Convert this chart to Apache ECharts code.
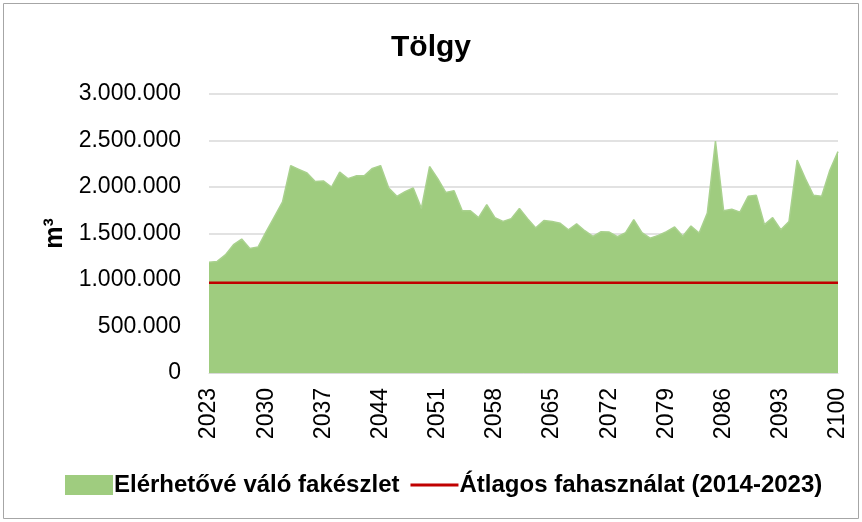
<!DOCTYPE html>
<html>
<head>
<meta charset="utf-8">
<script src="https://cdn.jsdelivr.net/npm/echarts@6/dist/echarts.min.js"></script>
<style>
  html, body { margin: 0; padding: 0; background: #fff; }
  #chart { width: 862px; height: 522px; }
</style>
</head>
<body>
<div id="chart"></div>
<script>
// evek 2023-2100
var years = [];
for (var y = 2023; y <= 2100; y++) {
    years.push(String(y));
}

// Elérhetővé váló fakészlet (m3)
var available = [
    1190000, 1200000, 1270000, 1380000, 1440000, 1340000, 1355000, 1520000, 1680000, 1840000,
    2230000, 2190000, 2150000, 2060000, 2065000, 2000000, 2160000, 2090000, 2120000, 2120000,
    2200000, 2230000, 1990000, 1900000, 1950000, 1990000, 1770000, 2220000, 2090000, 1940000,
    1960000, 1745000, 1745000, 1670000, 1810000, 1670000, 1630000, 1660000, 1770000, 1660000,
    1560000, 1640000, 1630000, 1610000, 1540000, 1605000, 1530000, 1470000, 1520000, 1515000,
    1465000, 1510000, 1650000, 1510000, 1450000, 1480000, 1520000, 1570000, 1470000, 1580000,
    1505000, 1720000, 2495000, 1745000, 1760000, 1730000, 1900000, 1910000, 1595000, 1670000,
    1540000, 1630000, 2290000, 2090000, 1910000, 1900000, 2180000, 2380000
];

// Átlagos fahasználat (2014-2023)
var avgUse = 970000;
var avgLine = years.map(function () { return avgUse; });

var fontMain = "'Liberation Sans', Arial, sans-serif";

function fmtHu(v) {
    return String(v).replace(/\B(?=(\d{3})+(?!\d))/g, '.');
}

var myChart = echarts.init(document.getElementById('chart'));

var option = {
    animation: false,
    backgroundColor: '#fff',
    textStyle: { fontFamily: fontMain },
    graphic: [{
        type: 'rect',
        shape: { x: 3.5, y: 3.5, width: 855, height: 515 },
        style: { fill: 'none', stroke: '#a6a6a6', lineWidth: 1 },
        silent: true
    }],
    title: {
        text: 'Tölgy',
        left: 'center',
        top: 28,
        textStyle: { fontFamily: fontMain, fontSize: 30, fontWeight: 'bold', color: '#000' }
    },
    legend: {
        bottom: 20,
        left: 60,
        itemWidth: 48,
        itemHeight: 20,
        itemGap: 11,
        textStyle: { fontFamily: fontMain, fontSize: 24, fontWeight: 'bold', color: '#000', padding: [0, 0, 0, -4] },
        data: [
            { name: 'Elérhetővé váló fakészlet', icon: 'rect' },
            { name: 'Átlagos fahasználat (2014-2023)', icon: 'path://M0,0L48,0L48,3L0,3Z' }
        ]
    },
    grid: { left: 209, right: 24, top: 94, bottom: 149 },
    xAxis: {
        type: 'category',
        data: years,
        boundaryGap: false,
        axisLine: { show: true, lineStyle: { color: '#d9d9d9', width: 1 } },
        axisTick: { show: false },
        axisLabel: {
            interval: 6,
            rotate: 90,
            margin: 15,
            fontFamily: fontMain,
            fontSize: 23,
            color: '#000'
        },
        splitLine: { show: false }
    },
    yAxis: {
        type: 'value',
        min: 0,
        max: 3000000,
        interval: 500000,
        name: 'm³',
        nameLocation: 'middle',
        nameGap: 138,
        nameTextStyle: { fontFamily: fontMain, fontSize: 25, fontWeight: 'bold', color: '#000' },
        axisLine: { show: false },
        axisTick: { show: false },
        axisLabel: {
            margin: 28,
            fontFamily: fontMain,
            fontSize: 23,
            color: '#000',
            formatter: function (v) { return fmtHu(v); }
        },
        splitLine: { show: true, lineStyle: { color: '#d9d9d9', width: 1.5 } }
    },
    series: [
        {
            name: 'Elérhetővé váló fakészlet',
            type: 'line',
            data: available,
            symbol: 'none',
            lineStyle: { color: '#a9d18e', width: 1.5 },
            itemStyle: { color: '#9fcc7f' },
            areaStyle: { color: '#9fcc7f', opacity: 1 },
            z: 1
        },
        {
            name: 'Átlagos fahasználat (2014-2023)',
            type: 'line',
            data: avgLine,
            symbol: 'none',
            lineStyle: { color: '#c00000', width: 2.5 },
            itemStyle: { color: '#c00000' },
            z: 3
        }
    ]
};

myChart.setOption(option);
</script>
</body>
</html>
